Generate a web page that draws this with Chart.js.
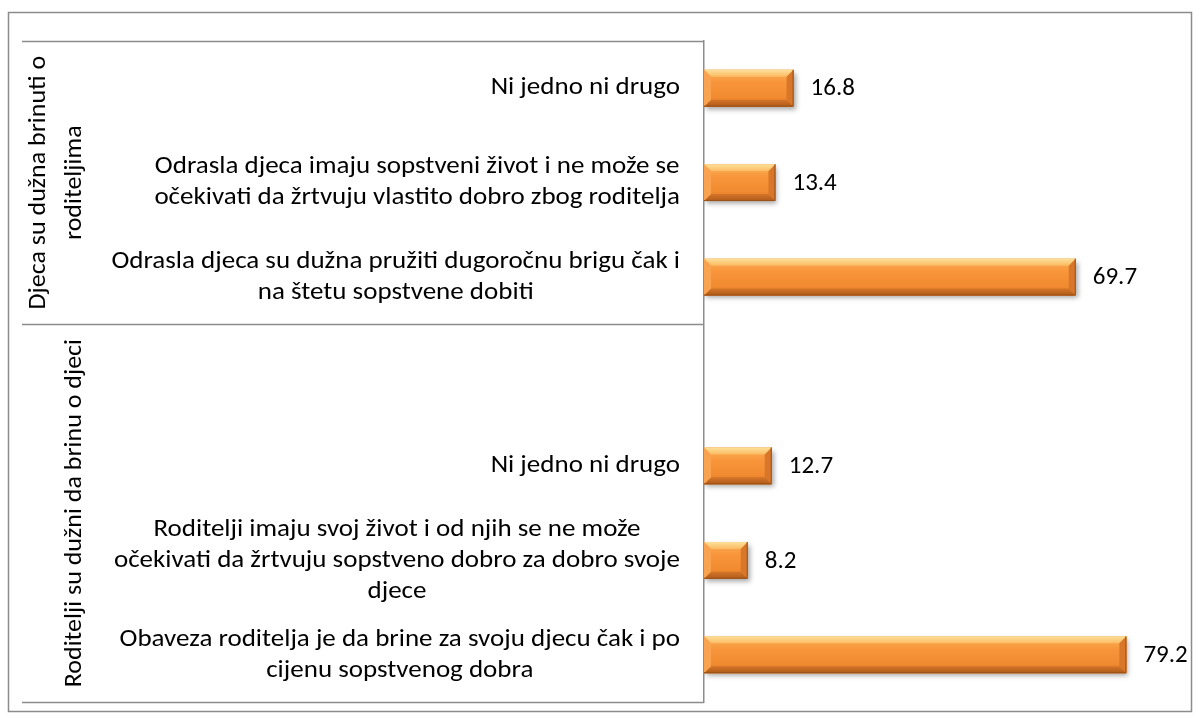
<!DOCTYPE html>
<html>
<head>
<meta charset="utf-8">
<script src="https://cdn.jsdelivr.net/npm/chart.js@4.4.1/dist/chart.umd.min.js"></script>
<style>
  html, body { margin: 0; padding: 0; background: #fff; }
  #wrap { width: 1200px; height: 722px; }
</style>
</head>
<body>
<div id="wrap"><canvas id="barChartCanvas" width="1200" height="722"></canvas></div>
<script>
// categories top to bottom, each one is a list of wrapped lines
var categories = [
  ["Ni jedno ni drugo"],
  ["Odrasla djeca imaju sopstveni život i ne može se", "očekivati da žrtvuju vlastito dobro zbog roditelja"],
  ["Odrasla djeca su dužna pružiti dugoročnu brigu čak i", "na štetu sopstvene dobiti"],
  [""],
  ["Ni jedno ni drugo"],
  ["Roditelji imaju svoj život i od njih se ne može", "očekivati da žrtvuju sopstveno dobro za dobro svoje", "djece"],
  ["Obaveza roditelja je da brine za svoju djecu čak i po", "cijenu sopstvenog dobra"]
]
var values = [16.8, 13.4, 69.7, null, 12.7, 8.2, 79.2]

var groupLabels = [["Djeca su dužna brinuti o", "roditeljima"], ["Roditelji su dužni da brinu o djeci"]]
var groupSizes = [3, 4]

var axisMax = 90

var fontFamily = "Carlito, Lato, 'Open Sans', sans-serif"
var textFont = "25px " + fontFamily
// the picture's text runs a little wider than Carlito
var labelStretch = 1.08
var groupStretch = 1.04
var lineColour = '#8c8c8c'

function poly(ctx, pts, fill) {
  ctx.beginPath()
  ctx.moveTo(pts[0][0], pts[0][1])
  for (var i = 1; i < pts.length; i++) ctx.lineTo(pts[i][0], pts[i][1])
  ctx.closePath()
  ctx.fillStyle = fill
  ctx.fill()
}

function drawText(ctx, text, x, y, align, angle, sx) {
  ctx.save()
  ctx.translate(x, y)
  if (angle) ctx.rotate(angle)
  ctx.scale(sx, 1)
  ctx.textAlign = align
  ctx.textBaseline = 'middle'
  ctx.fillText(text, 0, 0)
  ctx.restore()
}

var excelLook = {
  id: 'excelLook',
  beforeDraw: function (chart) {
    var ctx = chart.ctx
    ctx.save()
    ctx.fillStyle = '#fff'
    ctx.fillRect(0, 0, chart.width, chart.height)
    ctx.strokeStyle = lineColour
    ctx.lineWidth = 1.5
    ctx.strokeRect(8.5, 12.5, 1183, 699)
    ctx.restore()
  },
  beforeDatasetsDraw: function (chart) {
    var ctx = chart.ctx
    ctx.save()
    ctx.shadowColor = 'rgba(0, 0, 0, 0.35)'
    ctx.shadowBlur = 5
    ctx.shadowOffsetX = 2
    ctx.shadowOffsetY = 3
  },
  afterDatasetsDraw: function (chart) {
    var ctx = chart.ctx
    ctx.restore()
    var meta = chart.getDatasetMeta(0)
    ctx.save()
    meta.data.forEach(function (el, i) {
      if (values[i] === null) return
      var p = el.getProps(['x', 'y', 'base', 'height'], true)
      var x0 = p.base, x1 = p.x
      var y0 = p.y - p.height / 2, y1 = p.y + p.height / 2
      var b = Math.min(7, (x1 - x0) / 2)

      // bar face
      var g = ctx.createLinearGradient(0, y0, 0, y1)
      g.addColorStop(0, '#fab058')
      g.addColorStop(0.35, '#f8953a')
      g.addColorStop(0.75, '#f18a30')
      g.addColorStop(1, '#db7624')
      ctx.fillStyle = g
      ctx.fillRect(x0, y0, x1 - x0, y1 - y0)

      // bevel facets
      var tg = ctx.createLinearGradient(0, y0, 0, y0 + b)
      tg.addColorStop(0, '#fde09a')
      tg.addColorStop(1, '#fbbb62')
      poly(ctx, [[x0, y0], [x1, y0], [x1 - b, y0 + b], [x0 + b, y0 + b]], tg)
      var bg = ctx.createLinearGradient(0, y1 - b, 0, y1)
      bg.addColorStop(0, '#d5752a')
      bg.addColorStop(1, '#ae5a19')
      poly(ctx, [[x0, y1], [x1, y1], [x1 - b, y1 - b], [x0 + b, y1 - b]], bg)
      poly(ctx, [[x1, y0], [x1, y1], [x1 - b, y1 - b], [x1 - b, y0 + b]], '#d8762a')
      poly(ctx, [[x0, y0], [x0, y1], [x0 + b, y1 - b], [x0 + b, y0 + b]], '#f9a350')

      // dark edge on the right and bottom
      ctx.strokeStyle = '#9b5218'
      ctx.lineWidth = 1
      ctx.beginPath()
      ctx.moveTo(x1 - 0.5, y0)
      ctx.lineTo(x1 - 0.5, y1 - 0.5)
      ctx.lineTo(x0, y1 - 0.5)
      ctx.stroke()

      // value label
      ctx.fillStyle = '#000'
      ctx.font = textFont
      drawText(ctx, values[i].toFixed(1), x1 + 17, p.y + 1, 'left', 0, 1)
    })
    ctx.restore()
  },
  afterDraw: function (chart) {
    var ctx = chart.ctx
    var area = chart.chartArea
    var yScale = chart.scales.y
    ctx.save()
    ctx.font = textFont
    ctx.fillStyle = '#000'

    // category labels: lines centred on each other, block right aligned
    var lineHeight = 31
    var rightEdge = area.left - 24
    categories.forEach(function (lines, i) {
      var cy = yScale.getPixelForValue(i)
      var maxW = 0
      lines.forEach(function (l) { maxW = Math.max(maxW, ctx.measureText(l).width * labelStretch) })
      var cx = rightEdge - maxW / 2
      lines.forEach(function (l, k) {
        drawText(ctx, l, cx, cy + (k - (lines.length - 1) / 2) * lineHeight, 'center', 0, labelStretch)
      })
    })

    // group separators and rotated group labels
    ctx.strokeStyle = lineColour
    ctx.lineWidth = 1.5
    var start = 0
    var bounds = [area.top]
    groupSizes.forEach(function (n, g) {
      var end = start + n - 1
      var yTop = bounds[bounds.length - 1]
      var yBot = (end === categories.length - 1) ? area.bottom
        : (yScale.getPixelForValue(end) + yScale.getPixelForValue(end + 1)) / 2
      bounds.push(yBot)
      var cy = (yTop + yBot) / 2
      var lines = groupLabels[g]
      lines.forEach(function (l, k) {
        var cx = 75 - (lines.length - 1 - k) * 36
        drawText(ctx, l, cx, cy, 'center', -Math.PI / 2, groupStretch)
      })
      start += n
    })
    bounds.forEach(function (y) {
      ctx.beginPath()
      ctx.moveTo(22, Math.round(y) + 0.5)
      ctx.lineTo(area.left, Math.round(y) + 0.5)
      ctx.stroke()
    })
    ctx.restore()
  }
}

var ctx = document.getElementById('barChartCanvas').getContext('2d')
var barChart = new Chart(ctx, {
  type: 'bar',
  data: {
    labels: categories,
    datasets: [{
      data: values,
      backgroundColor: '#f7963e',
      borderWidth: 0,
      barPercentage: 0.39,
      categoryPercentage: 1
    }]
  },
  options: {
    indexAxis: 'y',
    responsive: false,
    animation: false,
    layout: {
      padding: { left: 0, right: 16, top: 41, bottom: 20 }
    },
    plugins: {
      legend: { display: false },
      tooltip: { enabled: false }
    },
    scales: {
      x: {
        display: false,
        min: 0,
        max: axisMax
      },
      y: {
        afterFit: function (scale) { scale.width = 704 },
        ticks: { display: false },
        grid: { display: false },
        border: { display: true, color: lineColour, width: 1.5 }
      }
    }
  },
  plugins: [excelLook]
})
</script>
</body>
</html>
